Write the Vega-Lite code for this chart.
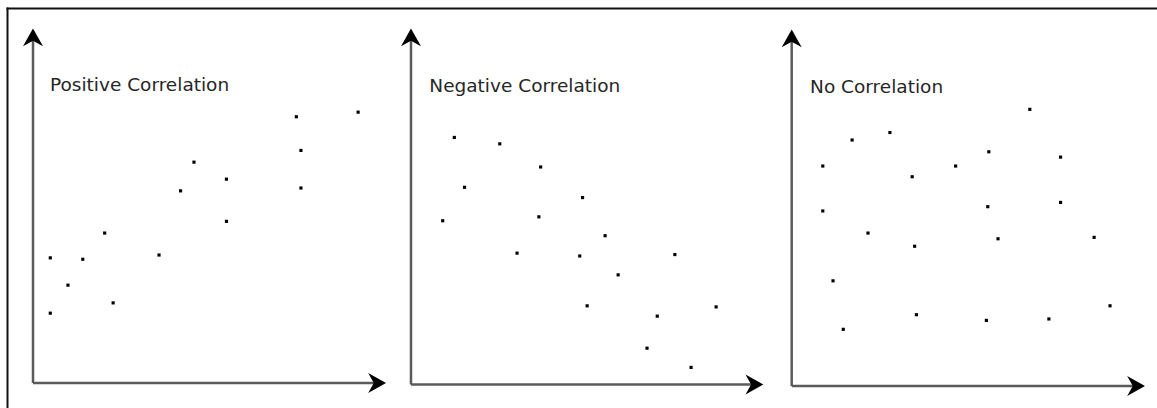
{
  "$schema": "https://vega.github.io/schema/vega-lite/v6.json",
  "width": 1150,
  "height": 400,
  "autosize": {"type": "none"},
  "padding": {"left": 7, "top": 8, "right": 0, "bottom": 0},
  "background": "white",
  "config": {"view": {"stroke": null}},
  "resolve": {"scale": {"x": "independent", "y": "independent"}, "axis": {"x": "independent", "y": "independent"}},
  "layer": [
    {
      "data": {"values": [{}]},
      "mark": {"type": "point", "opacity": 0},
      "encoding": {
        "x": {"datum": 0, "type": "quantitative", "scale": {"domain": [0, 1], "nice": false, "zero": false, "padding": 0},
              "axis": {"orient": "top", "domain": true, "domainColor": "#111", "domainWidth": 2, "domainCap": "square", "ticks": false, "labels": false, "grid": false, "title": null}},
        "y": {"datum": 0, "type": "quantitative", "scale": {"domain": [0, 1], "nice": false, "zero": false, "padding": 0},
              "axis": {"orient": "left", "domain": true, "domainColor": "#111", "domainWidth": 2, "domainCap": "square", "ticks": false, "labels": false, "grid": false, "title": null}}
      }
    },
    {
      "data": {"values": [
        {"x": 0.49, "y": 3.53}, {"x": 0.49, "y": 1.97}, {"x": 0.99, "y": 2.76}, {"x": 1.41, "y": 3.49},
        {"x": 2.03, "y": 4.23}, {"x": 2.27, "y": 2.26}, {"x": 3.57, "y": 3.61}, {"x": 4.18, "y": 5.42},
        {"x": 4.56, "y": 6.23}, {"x": 5.48, "y": 5.75}, {"x": 5.48, "y": 4.56}, {"x": 7.46, "y": 7.51},
        {"x": 7.59, "y": 6.56}, {"x": 7.59, "y": 5.50}, {"x": 9.21, "y": 7.64}
      ]},
      "layer": [
        {
          "data": {"values": [{}]},
          "mark": {"type": "rule", "color": "#5a5a5a", "strokeWidth": 2.5},
          "encoding": {
            "x": {"datum": 0, "type": "quantitative", "scale": {"domain": [-0.7365, 31.841], "nice": false, "zero": false, "padding": 0}, "axis": null},
            "y": {"datum": 0, "type": "quantitative", "scale": {"domain": [-0.7052, 10.578], "nice": false, "zero": false, "padding": 0}, "axis": null},
            "y2": {"datum": 9.7}
          }
        },
        {
          "data": {"values": [{}]},
          "mark": {"type": "rule", "color": "#5a5a5a", "strokeWidth": 2.5},
          "encoding": {
            "x": {"datum": 0, "type": "quantitative", "scale": {"domain": [-0.7365, 31.841], "nice": false, "zero": false, "padding": 0}, "axis": null},
            "x2": {"datum": 9.7},
            "y": {"datum": 0, "type": "quantitative", "scale": {"domain": [-0.7052, 10.578], "nice": false, "zero": false, "padding": 0}, "axis": null}
          }
        },
        {
          "data": {"values": [{}]},
          "mark": {"type": "point", "shape": "M0,0L1,1.78L0,1.22L-1,1.78Z", "size": 400, "filled": true, "color": "#000", "opacity": 1, "strokeWidth": 0},
          "encoding": {
            "x": {"datum": 0, "type": "quantitative", "scale": {"domain": [-0.7365, 31.841], "nice": false, "zero": false, "padding": 0}, "axis": null},
            "y": {"datum": 10, "type": "quantitative", "scale": {"domain": [-0.7052, 10.578], "nice": false, "zero": false, "padding": 0}, "axis": null}
          }
        },
        {
          "data": {"values": [{}]},
          "mark": {"type": "point", "shape": "M0,0L-1.78,-1L-1.22,0L-1.78,1Z", "size": 400, "filled": true, "color": "#000", "opacity": 1, "strokeWidth": 0},
          "encoding": {
            "x": {"datum": 10, "type": "quantitative", "scale": {"domain": [-0.7365, 31.841], "nice": false, "zero": false, "padding": 0}, "axis": null},
            "y": {"datum": 0, "type": "quantitative", "scale": {"domain": [-0.7052, 10.578], "nice": false, "zero": false, "padding": 0}, "axis": null}
          }
        },
        {
          "data": {"values": [{"label": "Positive Correlation"}]},
          "mark": {"type": "text", "align": "left", "baseline": "alphabetic", "font": "DejaVu Sans", "fontSize": 18.5, "color": "#262626"},
          "encoding": {
            "x": {"datum": 0.48, "type": "quantitative", "scale": {"domain": [-0.7365, 31.841], "nice": false, "zero": false, "padding": 0}, "axis": null},
            "y": {"datum": 8.25, "type": "quantitative", "scale": {"domain": [-0.7052, 10.578], "nice": false, "zero": false, "padding": 0}, "axis": null},
            "text": {"field": "label"}
          }
        },
        {
          "mark": {"type": "square", "size": 10, "color": "#000", "opacity": 1},
          "encoding": {
            "x": {"field": "x", "type": "quantitative", "scale": {"domain": [-0.7365, 31.841], "nice": false, "zero": false, "padding": 0}, "axis": null},
            "y": {"field": "y", "type": "quantitative", "scale": {"domain": [-0.7052, 10.578], "nice": false, "zero": false, "padding": 0}, "axis": null}
          }
        }
      ]
    },
    {
      "data": {"values": [
        {"x": 1.23, "y": 6.94}, {"x": 2.52, "y": 6.76}, {"x": 3.68, "y": 6.11}, {"x": 1.52, "y": 5.54},
        {"x": 4.87, "y": 5.25}, {"x": 0.90, "y": 4.60}, {"x": 3.63, "y": 4.71}, {"x": 5.51, "y": 4.18},
        {"x": 3.01, "y": 3.69}, {"x": 4.79, "y": 3.61}, {"x": 7.49, "y": 3.65}, {"x": 5.88, "y": 3.08},
        {"x": 5.00, "y": 2.21}, {"x": 8.66, "y": 2.18}, {"x": 6.99, "y": 1.92}, {"x": 6.70, "y": 1.02},
        {"x": 7.95, "y": 0.48}
      ]},
      "layer": [
        {
          "data": {"values": [{}]},
          "mark": {"type": "rule", "color": "#5a5a5a", "strokeWidth": 2.5},
          "encoding": {
            "x": {"datum": 0, "type": "quantitative", "scale": {"domain": [-11.467, 21.175], "nice": false, "zero": false, "padding": 0}, "axis": null},
            "y": {"datum": 0, "type": "quantitative", "scale": {"domain": [-0.6601, 10.576], "nice": false, "zero": false, "padding": 0}, "axis": null},
            "y2": {"datum": 9.7}
          }
        },
        {
          "data": {"values": [{}]},
          "mark": {"type": "rule", "color": "#5a5a5a", "strokeWidth": 2.5},
          "encoding": {
            "x": {"datum": 0, "type": "quantitative", "scale": {"domain": [-11.467, 21.175], "nice": false, "zero": false, "padding": 0}, "axis": null},
            "x2": {"datum": 9.7},
            "y": {"datum": 0, "type": "quantitative", "scale": {"domain": [-0.6601, 10.576], "nice": false, "zero": false, "padding": 0}, "axis": null}
          }
        },
        {
          "data": {"values": [{}]},
          "mark": {"type": "point", "shape": "M0,0L1,1.78L0,1.22L-1,1.78Z", "size": 400, "filled": true, "color": "#000", "opacity": 1, "strokeWidth": 0},
          "encoding": {
            "x": {"datum": 0, "type": "quantitative", "scale": {"domain": [-11.467, 21.175], "nice": false, "zero": false, "padding": 0}, "axis": null},
            "y": {"datum": 10, "type": "quantitative", "scale": {"domain": [-0.6601, 10.576], "nice": false, "zero": false, "padding": 0}, "axis": null}
          }
        },
        {
          "data": {"values": [{}]},
          "mark": {"type": "point", "shape": "M0,0L-1.78,-1L-1.22,0L-1.78,1Z", "size": 400, "filled": true, "color": "#000", "opacity": 1, "strokeWidth": 0},
          "encoding": {
            "x": {"datum": 10, "type": "quantitative", "scale": {"domain": [-11.467, 21.175], "nice": false, "zero": false, "padding": 0}, "axis": null},
            "y": {"datum": 0, "type": "quantitative", "scale": {"domain": [-0.6601, 10.576], "nice": false, "zero": false, "padding": 0}, "axis": null}
          }
        },
        {
          "data": {"values": [{"label": "Negative Correlation"}]},
          "mark": {"type": "text", "align": "left", "baseline": "alphabetic", "font": "DejaVu Sans", "fontSize": 18.5, "color": "#262626"},
          "encoding": {
            "x": {"datum": 0.52, "type": "quantitative", "scale": {"domain": [-11.467, 21.175], "nice": false, "zero": false, "padding": 0}, "axis": null},
            "y": {"datum": 8.22, "type": "quantitative", "scale": {"domain": [-0.6601, 10.576], "nice": false, "zero": false, "padding": 0}, "axis": null},
            "text": {"field": "label"}
          }
        },
        {
          "mark": {"type": "square", "size": 10, "color": "#000", "opacity": 1},
          "encoding": {
            "x": {"field": "x", "type": "quantitative", "scale": {"domain": [-11.467, 21.175], "nice": false, "zero": false, "padding": 0}, "axis": null},
            "y": {"field": "y", "type": "quantitative", "scale": {"domain": [-0.6601, 10.576], "nice": false, "zero": false, "padding": 0}, "axis": null}
          }
        }
      ]
    },
    {
      "data": {"values": [
        {"x": 6.74, "y": 7.76}, {"x": 2.78, "y": 7.11}, {"x": 1.71, "y": 6.90}, {"x": 5.58, "y": 6.57},
        {"x": 7.61, "y": 6.42}, {"x": 0.88, "y": 6.17}, {"x": 4.64, "y": 6.17}, {"x": 3.41, "y": 5.87},
        {"x": 0.88, "y": 4.91}, {"x": 5.55, "y": 5.03}, {"x": 7.61, "y": 5.15}, {"x": 2.16, "y": 4.29},
        {"x": 3.48, "y": 3.92}, {"x": 5.84, "y": 4.13}, {"x": 8.56, "y": 4.17}, {"x": 1.17, "y": 2.95},
        {"x": 3.53, "y": 2.00}, {"x": 1.46, "y": 1.59}, {"x": 5.51, "y": 1.84}, {"x": 7.28, "y": 1.88},
        {"x": 9.01, "y": 2.25}
      ]},
      "layer": [
        {
          "data": {"values": [{}]},
          "mark": {"type": "rule", "color": "#5a5a5a", "strokeWidth": 2.5},
          "encoding": {
            "x": {"datum": 0, "type": "quantitative", "scale": {"domain": [-22.211, 10.340], "nice": false, "zero": false, "padding": 0}, "axis": null},
            "y": {"datum": 0, "type": "quantitative", "scale": {"domain": [-0.6171, 10.603], "nice": false, "zero": false, "padding": 0}, "axis": null},
            "y2": {"datum": 9.7}
          }
        },
        {
          "data": {"values": [{}]},
          "mark": {"type": "rule", "color": "#5a5a5a", "strokeWidth": 2.5},
          "encoding": {
            "x": {"datum": 0, "type": "quantitative", "scale": {"domain": [-22.211, 10.340], "nice": false, "zero": false, "padding": 0}, "axis": null},
            "x2": {"datum": 9.7},
            "y": {"datum": 0, "type": "quantitative", "scale": {"domain": [-0.6171, 10.603], "nice": false, "zero": false, "padding": 0}, "axis": null}
          }
        },
        {
          "data": {"values": [{}]},
          "mark": {"type": "point", "shape": "M0,0L1,1.78L0,1.22L-1,1.78Z", "size": 400, "filled": true, "color": "#000", "opacity": 1, "strokeWidth": 0},
          "encoding": {
            "x": {"datum": 0, "type": "quantitative", "scale": {"domain": [-22.211, 10.340], "nice": false, "zero": false, "padding": 0}, "axis": null},
            "y": {"datum": 10, "type": "quantitative", "scale": {"domain": [-0.6171, 10.603], "nice": false, "zero": false, "padding": 0}, "axis": null}
          }
        },
        {
          "data": {"values": [{}]},
          "mark": {"type": "point", "shape": "M0,0L-1.78,-1L-1.22,0L-1.78,1Z", "size": 400, "filled": true, "color": "#000", "opacity": 1, "strokeWidth": 0},
          "encoding": {
            "x": {"datum": 10, "type": "quantitative", "scale": {"domain": [-22.211, 10.340], "nice": false, "zero": false, "padding": 0}, "axis": null},
            "y": {"datum": 0, "type": "quantitative", "scale": {"domain": [-0.6171, 10.603], "nice": false, "zero": false, "padding": 0}, "axis": null}
          }
        },
        {
          "data": {"values": [{"label": "No Correlation"}]},
          "mark": {"type": "text", "align": "left", "baseline": "alphabetic", "font": "DejaVu Sans", "fontSize": 18.5, "color": "#262626"},
          "encoding": {
            "x": {"datum": 0.52, "type": "quantitative", "scale": {"domain": [-22.211, 10.340], "nice": false, "zero": false, "padding": 0}, "axis": null},
            "y": {"datum": 8.22, "type": "quantitative", "scale": {"domain": [-0.6171, 10.603], "nice": false, "zero": false, "padding": 0}, "axis": null},
            "text": {"field": "label"}
          }
        },
        {
          "mark": {"type": "square", "size": 10, "color": "#000", "opacity": 1},
          "encoding": {
            "x": {"field": "x", "type": "quantitative", "scale": {"domain": [-22.211, 10.340], "nice": false, "zero": false, "padding": 0}, "axis": null},
            "y": {"field": "y", "type": "quantitative", "scale": {"domain": [-0.6171, 10.603], "nice": false, "zero": false, "padding": 0}, "axis": null}
          }
        }
      ]
    }
  ]
}
